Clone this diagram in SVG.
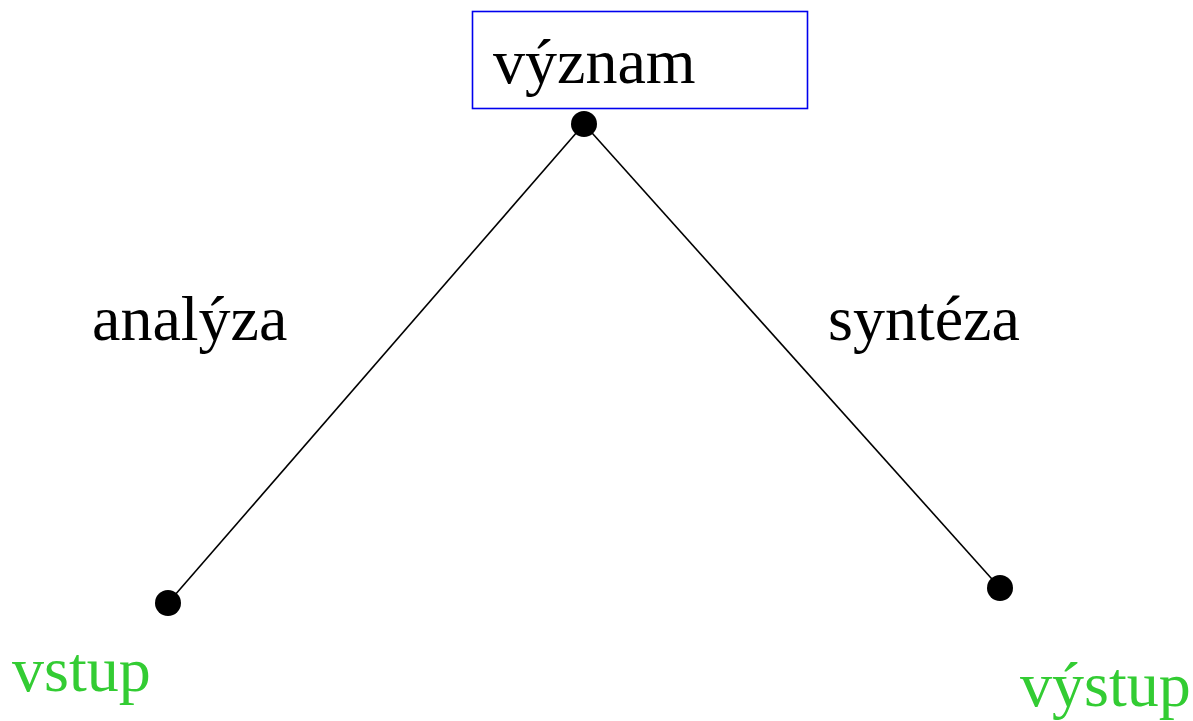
<svg xmlns="http://www.w3.org/2000/svg" width="1193" height="721" viewBox="0 0 1193 721">
<style>
text{font-family:"Liberation Serif","Times New Roman",serif;font-size:64px}
.lbl{fill:#000}
.io{fill:#33cc33}
.dot{fill:#000}
.edge{stroke:#000;stroke-width:1.6;fill:none}
</style>
<rect width="1193" height="721" fill="#fff"/>
<g id="connectors">
<line class="edge" x1="584" y1="124" x2="168" y2="603"/>
<line class="edge" x1="584" y1="124" x2="1000" y2="588"/>
</g>
<g id="vyznam">
<rect x="472.5" y="11.5" width="335" height="97" fill="none" stroke="#0000ee" stroke-width="1.6"/>
<text class="lbl" x="493" y="83">význam</text>
<circle class="dot" cx="584" cy="124" r="13"/>
</g>
<g id="vstup">
<circle class="dot" cx="168" cy="603" r="13"/>
<text class="io" x="12" y="691">vstup</text>
</g>
<g id="vystup">
<circle class="dot" cx="1000" cy="588" r="13"/>
<text class="io" x="1020" y="706">výstup</text>
</g>
<g id="labels">
<text class="lbl" x="92" y="340">analýza</text>
<text class="lbl" x="828" y="340">syntéza</text>
</g>
</svg>
